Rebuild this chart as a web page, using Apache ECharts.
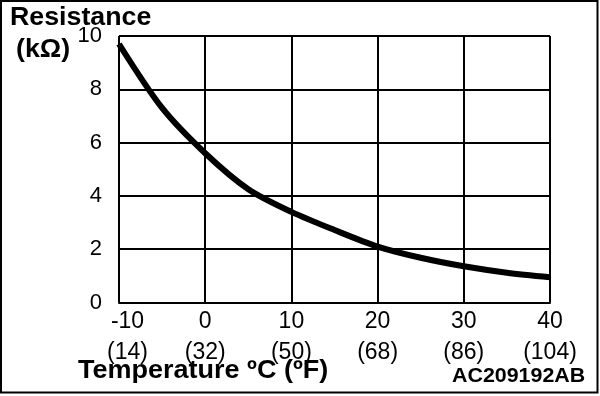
<!DOCTYPE html>
<html><head><meta charset="utf-8">
<script src="https://cdn.jsdelivr.net/npm/echarts@6/dist/echarts.min.js"></script>
<style>html,body{margin:0;padding:0;background:#fff}#c{width:600px;height:396px}</style>
</head><body><div id="c"></div>
<script>
const temperatures = [-10, -5, 0, 5, 10, 15, 20, 25, 30, 35, 40];
const resistances = [9.7, 7.3, 5.6, 4.25, 3.4, 2.72, 2.1, 1.68, 1.36, 1.12, 0.95];
const celsiusTicks = [-10, 0, 10, 20, 30, 40];
const fahrenheitTicks = ['(14)', '(32)', '(50)', '(68)', '(86)', '(104)'];
const yTicks = [0, 2, 4, 6, 8, 10];

const FONT = '"Liberation Sans", Arial, Helvetica, sans-serif';
const chart = echarts.init(document.getElementById('c'), null, {renderer: 'canvas'});
const lbl = {color: '#000', fontFamily: FONT, fontSize: 23, lineHeight: 30.5};
chart.setOption({
  animation: false,
  backgroundColor: '#fff',
  grid: {left: 119, right: 50, top: 36, bottom: 93.5},
  xAxis: {
    type: 'value', min: -10, max: 40, interval: 10,
    axisLine: {show: true, lineStyle: {color: '#000', width: 2}},
    axisTick: {show: false},
    splitLine: {show: true, lineStyle: {color: '#000', width: 2}},
    axisLabel: Object.assign({
      margin: 4,
      rich: {m: Object.assign({padding: [0, 0, 0, 17]}, lbl)},
      formatter: v => {
        const i = celsiusTicks.indexOf(v);
        if (i < 0) return '';
        if (i === 0) return '{m|' + celsiusTicks[i] + '}\n{m|' + fahrenheitTicks[i] + '}';
        return celsiusTicks[i] + '\n' + fahrenheitTicks[i];
      }
    }, lbl)
  },
  yAxis: {
    type: 'value', min: 0, max: 10, interval: 2,
    axisLine: {show: true, lineStyle: {color: '#000', width: 2}},
    axisTick: {show: false},
    splitLine: {show: true, lineStyle: {color: '#000', width: 2}},
    axisLabel: {
      margin: 17, color: '#000', fontFamily: FONT, fontSize: 22,
      formatter: v => yTicks.indexOf(v) >= 0 ? String(v) : ''
    }
  },
  series: [{
    type: 'line', smooth: 0.3, symbol: 'none',
    lineStyle: {color: '#000', width: 6},
    data: temperatures.map((t, i) => [t, resistances[i]])
  }],
  graphic: [
    {type: 'rect', shape: {x: 1, y: 1, width: 596.5, height: 391.5}, style: {fill: 'none', stroke: '#000', lineWidth: 2}, silent: true},
    {type: 'text', x: 10, y: 18.5, scaleX: 1.07, style: {text: 'Resistance', font: 'bold 25px ' + FONT, fill: '#000', verticalAlign: 'middle'}},
    {type: 'text', x: 16, y: 50, scaleX: 1.07, style: {text: '(kΩ)', font: 'bold 25px ' + FONT, fill: '#000', verticalAlign: 'middle'}},
    {type: 'text', x: 78, y: 371.5, scaleX: 1.08, style: {text: 'Temperature ºC (ºF)', font: 'bold 25px ' + FONT, fill: '#000', verticalAlign: 'middle'}},
    {type: 'text', x: 452, y: 376.5, scaleX: 1.07, style: {text: 'AC209192AB', font: 'bold 20px ' + FONT, fill: '#000', verticalAlign: 'middle'}}
  ]
});
</script></body></html>
